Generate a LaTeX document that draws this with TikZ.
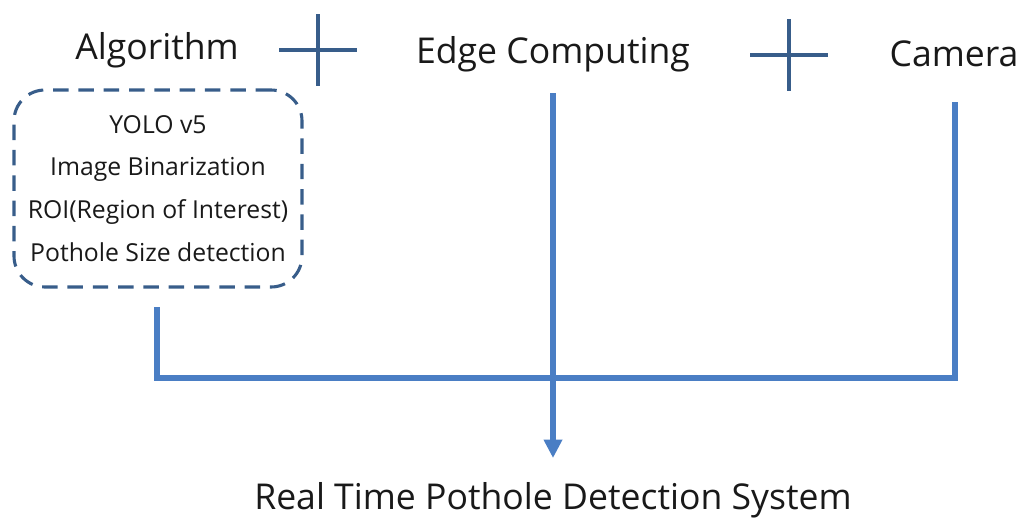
\documentclass[tikz,border=0pt]{standalone}
\usepackage{fontspec}
\setmainfont{Open Sans}
\usepackage{tikz}
\usetikzlibrary{positioning, arrows.meta, calc}

\definecolor{linkblue}{HTML}{4A7EC4}
\definecolor{darkblue}{HTML}{385D8A}

\tikzset{
  head/.style={font=\fontsize{25.3}{30}\selectfont, text=black!90},
  algbox/.style={draw=darkblue, line width=2.2pt, dash pattern=on 11pt off 7pt,
    rounded corners=22pt, align=center, minimum width=288*0.025cm,
    minimum height=197*0.025cm, font=\fontsize{17.6}{30.5}\selectfont, text=black!90},
  plus/.style={draw=darkblue, line width=2.8pt},
  link/.style={draw=linkblue, line width=3.6pt}
}

\begin{document}
\begin{tikzpicture}[x=0.025cm, y=-0.025cm, >={Triangle[width=12.5pt,length=13pt]}]
  \useasboundingbox (0,0) rectangle (1017,521);

  \node[head] (alg) at (157,50) {Algorithm};
  \node[head] (edge) at (553,54) {Edge Computing};
  \node[head] (cam) at (954,54) {Camera};

  \coordinate (p1) at (318,50);
  \coordinate (p2) at (789,55);
  \draw[plus] (p1) ++(-39,0) -- ++(78,0) (p1) ++(0,-36) -- ++(0,72);
  \draw[plus] (p2) ++(-39,0) -- ++(78,0) (p2) ++(0,-36) -- ++(0,72);

  \node[algbox] (box) at (158,188.5) {
    YOLO v5\\ Image Binarization\\ ROI(Region of Interest)\\ Pothole Size detection
  };

  \node[head] (sys) at (553,500) {Real Time Pothole Detection System};

  \coordinate (a1) at (157,307);
  \coordinate (c1) at (955,102);
  \coordinate (j) at (553,378);
  \coordinate (e1) at (553,93);
  \coordinate (s1) at (553,458);

  \draw[link] (a1) |- (j) -| (c1);
  \draw[link, ->] (e1) -- (s1);
\end{tikzpicture}
\end{document}
